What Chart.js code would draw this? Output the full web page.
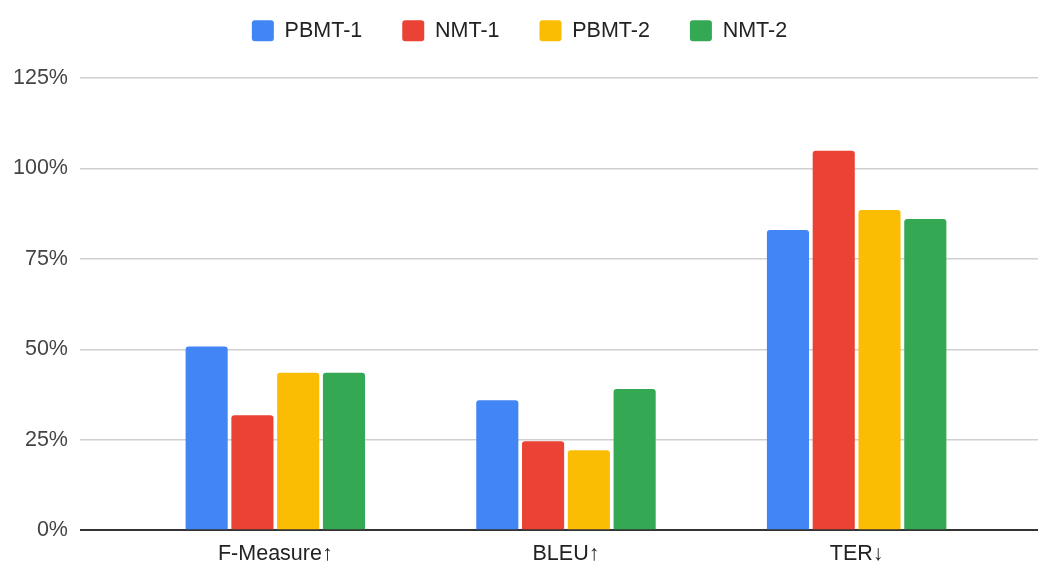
<!DOCTYPE html>
<html>
<head>
<meta charset="utf-8">
<script src="https://cdn.jsdelivr.net/npm/chart.js@4/dist/chart.umd.min.js"></script>
<style>
  html, body { margin: 0; padding: 0; background: #fff; }
  #wrap { width: 1038px; height: 565px; }
</style>
</head>
<body>
<div id="wrap"><canvas id="chart_mt"></canvas></div>
<script>
// metrics on the x axis
var categories = ["F-Measure\u2191", "BLEU\u2191", "TER\u2193"];
// scores per system, in percent
var pbmt1 = [50.8, 35.9, 83.0];
var nmt1 = [31.8, 24.6, 104.9];
var pbmt2 = [43.5, 22.1, 88.5];
var nmt2 = [43.5, 39.0, 86.0];
// y axis ticks
var y_ticks = [0, 25, 50, 75, 100, 125];

var color_pbmt1 = "#4285F4";
var color_nmt1 = "#EA4335";
var color_pbmt2 = "#FBBC04";
var color_nmt2 = "#34A853";

var font_family = "'Liberation Sans', Arial, sans-serif";

// turn a value list into {x, y} points, one per category
function toPoints(values) {
  return values.map((v, i) => ({ x: i, y: v }));
}

function makeDataset(label, values, color) {
  return {
    label: label,
    data: toPoints(values),
    backgroundColor: color,
    borderColor: color,
    borderWidth: 0,
    borderRadius: 3,
    borderSkipped: "start",
    categoryPercentage: 0.63,
    barPercentage: 0.92,
  };
}

// leave some room between the legend and the plot
const legendSpacer = {
  id: "legendSpacer",
  beforeInit(chart) {
    const fitLegend = chart.legend.fit;
    chart.legend.fit = function fit() {
      fitLegend.bind(chart.legend)();
      this.height = 98;
    };
  },
};

const ctx = document.getElementById("chart_mt").getContext("2d");

const chart = new Chart(ctx, {
  type: "bar",
  data: {
    datasets: [
      makeDataset("PBMT-1", pbmt1, color_pbmt1),
      makeDataset("NMT-1", nmt1, color_nmt1),
      makeDataset("PBMT-2", pbmt2, color_pbmt2),
      makeDataset("NMT-2", nmt2, color_nmt2),
    ],
  },
  plugins: [legendSpacer],
  options: {
    responsive: true,
    maintainAspectRatio: false,
    animation: false,
    layout: {
      padding: { left: 1, right: 0, top: -20, bottom: -13 },
    },
    plugins: {
      tooltip: { enabled: false },
      legend: {
        position: "top",
        labels: {
          boxWidth: 22,
          boxHeight: 21,
          useBorderRadius: true,
          borderRadius: 3,
          padding: 40,
          color: "#222",
          font: { family: font_family, size: 21.5 },
        },
      },
    },
    scales: {
      x: {
        type: "linear",
        offset: false,
        min: -0.672,
        max: 2.624,
        grid: { display: false, drawTicks: false },
        border: { display: false },
        afterBuildTicks: (axis) => {
          axis.ticks = categories.map((c, i) => ({ value: i }));
        },
        ticks: {
          color: "#222",
          padding: 11,
          maxRotation: 0,
          autoSkip: false,
          font: { family: font_family, size: 21.5 },
          callback: (v) => categories[v],
        },
      },
      y: {
        min: 0,
        max: 125,
        afterBuildTicks: (axis) => {
          axis.ticks = y_ticks.map((v) => ({ value: v }));
        },
        grid: {
          drawTicks: false,
          color: (c) => (c.tick && c.tick.value === 0 ? "#333" : "#d0d0d0"),
          lineWidth: (c) => (c.tick && c.tick.value === 0 ? 2 : 1.5),
        },
        border: { display: false },
        ticks: {
          color: "#444",
          padding: 12,
          font: { family: font_family, size: 21.5 },
          callback: (v) => v + "%",
        },
      },
    },
  },
});
</script>
</body>
</html>
